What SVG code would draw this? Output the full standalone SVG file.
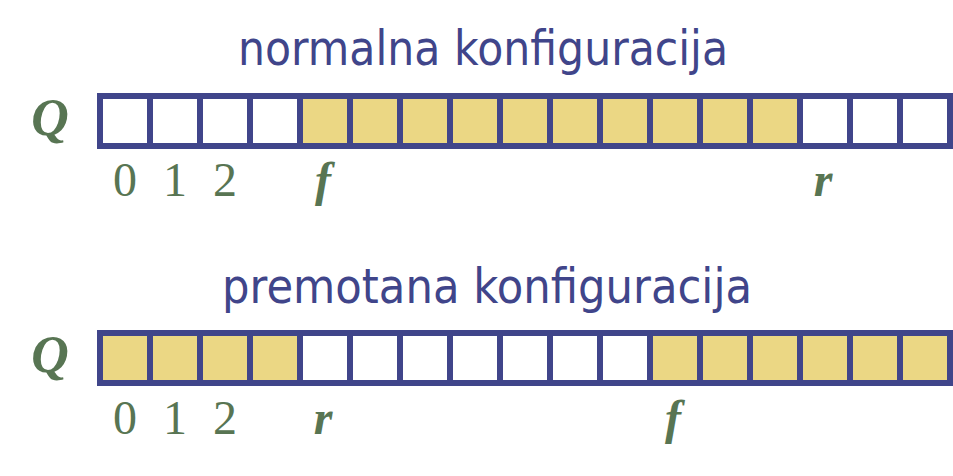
<svg xmlns="http://www.w3.org/2000/svg" width="953" height="476" viewBox="0 0 953 476">
<style>
.c{stroke:#40458A;stroke-width:6;fill:#FFFFFF}
.y{fill:#EBD784}
.t{font-family:"DejaVu Sans","Liberation Sans",sans-serif;font-size:48px;fill:#40458A}
.n{font-family:"Liberation Serif","Times New Roman",serif;font-size:48px;fill:#587553;text-anchor:middle}
.v{font-family:"Liberation Serif","Times New Roman",serif;font-size:48px;font-weight:bold;font-style:italic;fill:#587553;text-anchor:middle}
.q{font-family:"Liberation Serif","Times New Roman",serif;font-size:52px;font-weight:bold;font-style:italic;fill:#587553;text-anchor:middle}
</style>
<rect width="953" height="476" fill="#FFFFFF"/>
<g id="title-normal"><text class="t" x="238" y="65" textLength="490" lengthAdjust="spacingAndGlyphs">normalna konfiguracija</text></g>
<g id="array-normal">
<text class="q" x="50" y="135">Q</text>
<rect class="c" x="100" y="96" width="50" height="50"/>
<rect class="c" x="150" y="96" width="50" height="50"/>
<rect class="c" x="200" y="96" width="50" height="50"/>
<rect class="c" x="250" y="96" width="50" height="50"/>
<rect class="c y" x="300" y="96" width="50" height="50"/>
<rect class="c y" x="350" y="96" width="50" height="50"/>
<rect class="c y" x="400" y="96" width="50" height="50"/>
<rect class="c y" x="450" y="96" width="50" height="50"/>
<rect class="c y" x="500" y="96" width="50" height="50"/>
<rect class="c y" x="550" y="96" width="50" height="50"/>
<rect class="c y" x="600" y="96" width="50" height="50"/>
<rect class="c y" x="650" y="96" width="50" height="50"/>
<rect class="c y" x="700" y="96" width="50" height="50"/>
<rect class="c y" x="750" y="96" width="50" height="50"/>
<rect class="c" x="800" y="96" width="50" height="50"/>
<rect class="c" x="850" y="96" width="50" height="50"/>
<rect class="c" x="900" y="96" width="50" height="50"/>
<text class="n" x="125" y="196">0</text>
<text class="n" x="175" y="196">1</text>
<text class="n" x="225" y="196">2</text>
<text class="v" x="323" y="196">f</text>
<text class="v" x="823" y="196">r</text>
</g>
<g id="title-wrapped"><text class="t" x="222" y="303" textLength="530" lengthAdjust="spacingAndGlyphs">premotana konfiguracija</text></g>
<g id="array-wrapped">
<text class="q" x="50" y="372">Q</text>
<rect class="c y" x="100" y="333" width="50" height="50"/>
<rect class="c y" x="150" y="333" width="50" height="50"/>
<rect class="c y" x="200" y="333" width="50" height="50"/>
<rect class="c y" x="250" y="333" width="50" height="50"/>
<rect class="c" x="300" y="333" width="50" height="50"/>
<rect class="c" x="350" y="333" width="50" height="50"/>
<rect class="c" x="400" y="333" width="50" height="50"/>
<rect class="c" x="450" y="333" width="50" height="50"/>
<rect class="c" x="500" y="333" width="50" height="50"/>
<rect class="c" x="550" y="333" width="50" height="50"/>
<rect class="c" x="600" y="333" width="50" height="50"/>
<rect class="c y" x="650" y="333" width="50" height="50"/>
<rect class="c y" x="700" y="333" width="50" height="50"/>
<rect class="c y" x="750" y="333" width="50" height="50"/>
<rect class="c y" x="800" y="333" width="50" height="50"/>
<rect class="c y" x="850" y="333" width="50" height="50"/>
<rect class="c y" x="900" y="333" width="50" height="50"/>
<text class="n" x="125" y="434">0</text>
<text class="n" x="175" y="434">1</text>
<text class="n" x="225" y="434">2</text>
<text class="v" x="323" y="434">r</text>
<text class="v" x="673" y="434">f</text>
</g>
<g id="connectors"/>
</svg>
